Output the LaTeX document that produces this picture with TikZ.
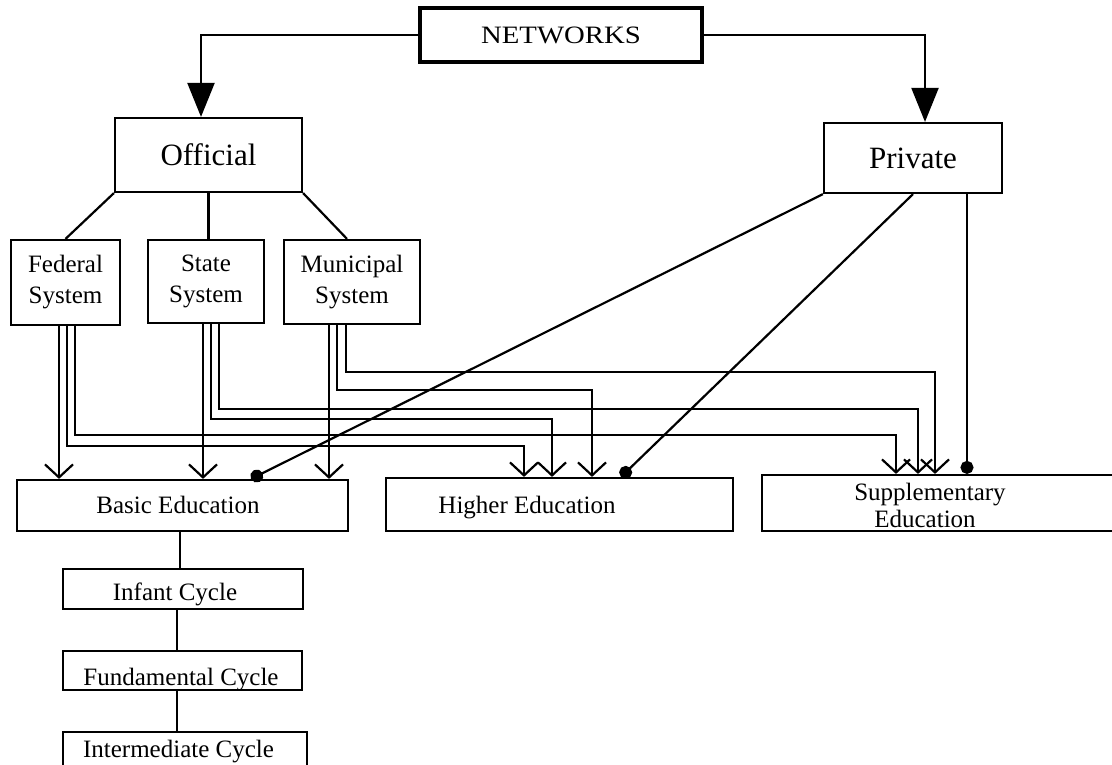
\documentclass[tikz,border=0pt]{standalone}
\usepackage{fontspec}
\usepackage{graphicx}
\setmainfont{Liberation Serif}
\usetikzlibrary{arrows.meta}
\begin{document}
\begin{tikzpicture}[x=1pt,y=-1pt,
  box/.style={draw,line width=2.2pt,inner sep=0pt,font=\fontsize{25}{31}\selectfont,align=center},
  bigfont/.style={font=\fontsize{31}{37}\selectfont},
  conn/.style={line width=2.2pt},
  bigarrow/.style={conn,-{Triangle[length=34pt,width=27pt]}},
  varrow/.style={conn,-{Straight Barb[length=13pt,width=28pt]}},
  dotend/.style={conn,-{Circle[length=13pt]}},
  lbl/.style={inner sep=0pt,anchor=base,font=\fontsize{25}{31}\selectfont}]
\useasboundingbox (0,0) rectangle (1112,764);
\fill[white] (0,0) rectangle (1112,764);
\clip (0,0) rectangle (1112,764);
% nodes
\node[box,line width=4pt,minimum width=282pt,minimum height=54pt] (net) at (561,35) {\scalebox{1.15}[1]{NETWORKS}};
\node[box,bigfont,minimum width=187pt,minimum height=74pt] (off) at (208.5,155) {Official};
\node[box,bigfont,minimum width=178pt,minimum height=70pt] (priv) at (913,158) {Private};
\node[box,minimum width=109pt,minimum height=85pt] (fed) at (65.5,282.5) {Federal\\System};
\node[box,minimum width=116pt,minimum height=83pt] (state) at (206,281.5) {State\\System};
\node[box,minimum width=136pt,minimum height=84pt] (mun) at (352,282) {Municipal\\System};
\node[box,minimum width=331pt,minimum height=51pt] (basic) at (182.5,505.5) {};
\node[lbl] (basicT) at (178,513) {Basic Education};
\node[box,minimum width=347pt,minimum height=53pt] (higher) at (559.5,504.5) {};
\node[lbl] (higherT) at (527,513) {Higher Education};
\node[box,minimum width=352pt,minimum height=56pt] (supp) at (938,503) {};
\node[lbl] (suppT1) at (930,500) {Supplementary};
\node[lbl] (suppT2) at (925,527) {Education};
\node[box,minimum width=240pt,minimum height=40pt] (inf) at (183,589) {};
\node[lbl] (infT) at (175,600) {Infant Cycle};
\node[box,minimum width=239pt,minimum height=39pt] (fund) at (182.5,670.5) {};
\node[lbl] (fundT) at (181,685) {Fundamental Cycle};
\node[box,minimum width=244pt,minimum height=44pt] (inter) at (185,754) {};
\node[lbl] (interT) at (178.5,757) {Intermediate Cycle};
% top connectors
\draw[bigarrow] (net.west) -| ([xshift=-7.5pt]off.north);
\draw[bigarrow] (net.east) -| ([xshift=12pt]priv.north);
\draw[conn] (off.south west) -- (fed.north);
\draw[conn] (off.south) -- (off.south |- state.north);
\draw[conn] (off.south east) -- ([xshift=-5pt]mun.north);
% federal
\draw[varrow] ([xshift=-6.5pt]fed.south) -- ([xshift=-6.5pt]fed.south |- basic.north);
\draw[varrow] ([xshift=1.5pt]fed.south) -- ++(0,120) -| ([xshift=-35.5pt]higher.north);
\draw[varrow] ([xshift=9.5pt]fed.south) -- ++(0,109) -| ([xshift=-42pt]supp.north);
% state
\draw[varrow] ([xshift=-3pt]state.south) -- ([xshift=-3pt]state.south |- basic.north);
\draw[varrow] ([xshift=5pt]state.south) -- ++(0,95) -| ([xshift=-7.5pt]higher.north);
\draw[varrow] ([xshift=13pt]state.south) -- ++(0,85) -| ([xshift=-20pt]supp.north);
% municipal
\draw[varrow] ([xshift=-23pt]mun.south) -- ([xshift=-23pt]mun.south |- basic.north);
\draw[varrow] ([xshift=-15pt]mun.south) -- ++(0,65) -| ([xshift=32.5pt]higher.north);
\draw[varrow] ([xshift=-6pt]mun.south) -- ++(0,47) -| ([xshift=-3pt]supp.north);
% private
\draw[dotend] (priv.south west) -- ([xshift=68.5pt]basic.north);
\draw[dotend] (priv.south) -- ([xshift=61.5pt]higher.north);
\draw[dotend] ([xshift=54pt]priv.south) -- ([xshift=29pt]supp.north);
% cycles
\draw[conn] ([xshift=-2.5pt]basic.south) -- ([xshift=-3pt]inf.north);
\draw[conn] ([xshift=-6pt]inf.south) -- ([xshift=-5.5pt]fund.north);
\draw[conn] ([xshift=-5.5pt]fund.south) -- ([xshift=-8pt]inter.north);
\end{tikzpicture}
\end{document}
